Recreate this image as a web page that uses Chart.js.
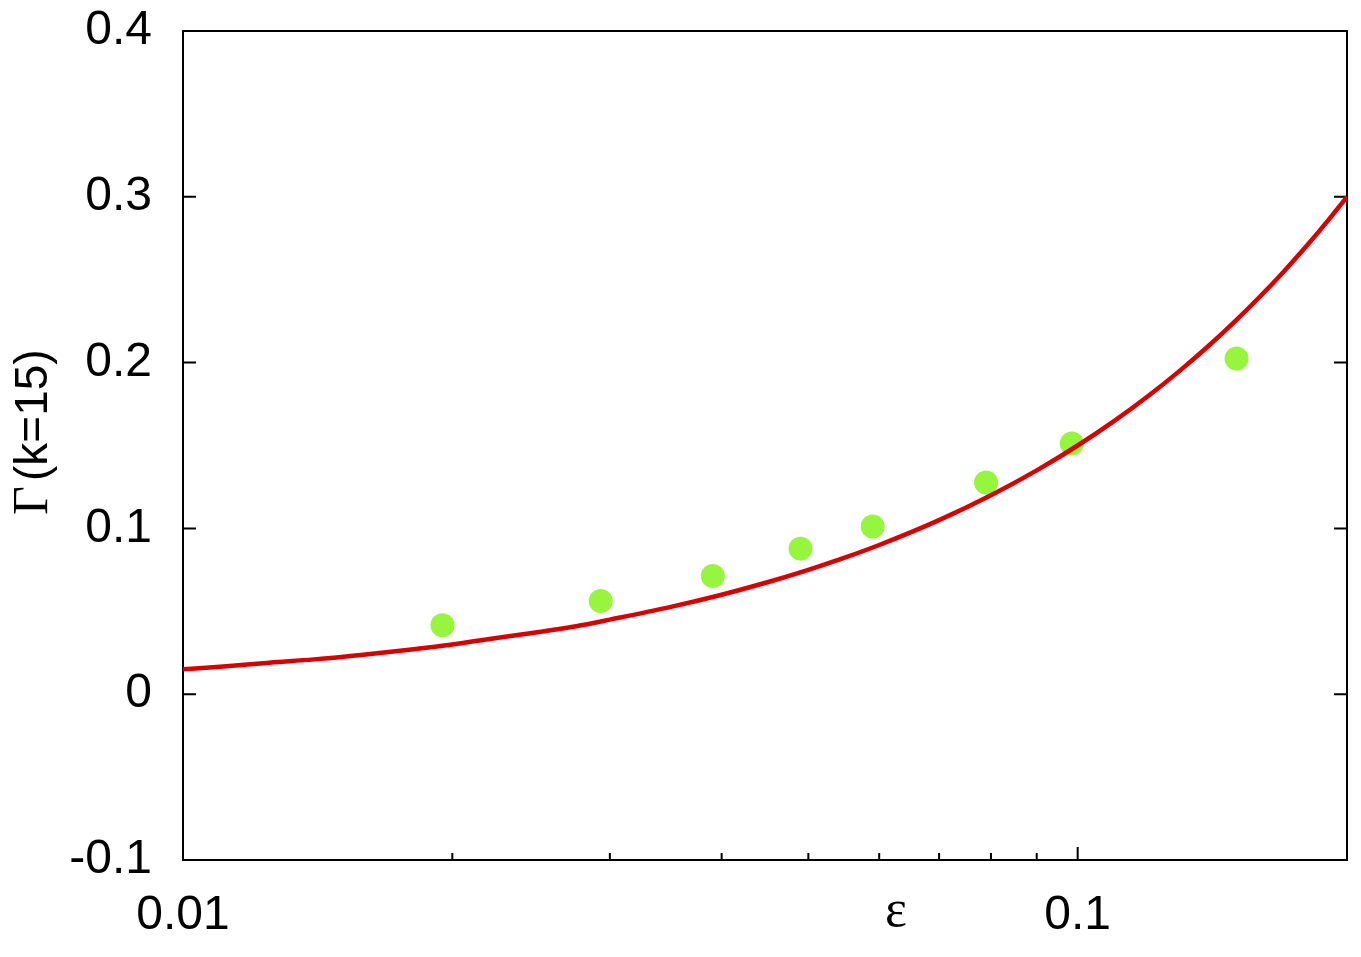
<!DOCTYPE html>
<html><head><meta charset="utf-8">
<script src="https://cdn.jsdelivr.net/npm/chart.js@4/dist/chart.umd.min.js"></script>
<style>html,body{margin:0;padding:0;background:#fff;}#wrap{width:1361px;height:957px;position:relative;}</style>
</head><body><div id="wrap"><canvas id="c" width="1361" height="957"></canvas></div>
<script>
// Fitted curve (red line)
const curveX = [0.01, 0.011, 0.0125, 0.014, 0.016, 0.018, 0.02, 0.0225, 0.025, 0.0275, 0.03, 0.035, 0.04, 0.045, 0.05, 0.055, 0.06, 0.07, 0.08, 0.09, 0.1, 0.11, 0.12, 0.13, 0.14, 0.15, 0.16, 0.17, 0.18, 0.19, 0.2];
const curveY = [0.015, 0.0165, 0.019, 0.021, 0.024, 0.027, 0.030, 0.034, 0.0375, 0.041, 0.045, 0.0525, 0.060, 0.0675, 0.075, 0.0825, 0.090, 0.105, 0.120, 0.135, 0.150, 0.165, 0.180, 0.195, 0.210, 0.225, 0.240, 0.255, 0.270, 0.285, 0.300];
// Measured points (green dots)
const pointX = [0.0195, 0.0293, 0.0391, 0.049, 0.059, 0.079, 0.0985, 0.1505];
const pointY = [0.0416, 0.0562, 0.0713, 0.0878, 0.1012, 0.1277, 0.1512, 0.2024];
// Axis ticks
const xTickValues = [0.01, 0.02, 0.03, 0.04, 0.05, 0.06, 0.07, 0.08, 0.09, 0.1];
const xMajorTicks = [0.01, 0.1];
const xTickLabels = ['0.01', '0.1'];
const yTickValues = [-0.1, 0, 0.1, 0.2, 0.3, 0.4];
const yTickLabels = ['-0.1', '0', '0.1', '0.2', '0.3', '0.4'];
const xTitle = 'ε';
const yTitleSymbol = 'Γ';
const yTitleRest = '(k=15)';

const SANS = '"Liberation Sans", Arial, Helvetica, sans-serif';
const SERIF = '"Liberation Serif", "DejaVu Serif", serif';

function near(a, b) { return Math.abs(a - b) < 1e-9 * Math.max(1, Math.abs(b)) + 1e-12; }

const framePlugin = {
  id: 'frame',
  beforeDatasetsDraw(chart) {
    const { ctx, chartArea: a, scales: { x, y } } = chart;
    ctx.save();
    ctx.strokeStyle = '#000';
    ctx.lineWidth = 2;
    ctx.strokeRect(a.left, a.top, a.right - a.left, a.bottom - a.top);
    ctx.lineWidth = 2;
    ctx.beginPath();
    yTickValues.forEach(v => {
      const py = y.getPixelForValue(v);
      ctx.moveTo(a.left, py); ctx.lineTo(a.left + 13, py);
      ctx.moveTo(a.right, py); ctx.lineTo(a.right - 13, py);
    });
    x.ticks.forEach(t => {
      const px = x.getPixelForValue(t.value);
      const major = xMajorTicks.some(m => near(m, t.value));
      ctx.moveTo(px, a.bottom); ctx.lineTo(px, a.bottom - (major ? 13 : 7));
    });
    ctx.stroke();
    ctx.restore();
  },
  afterDraw(chart) {
    const { ctx } = chart;
    ctx.save();
    ctx.fillStyle = '#000';
    // x title (epsilon)
    ctx.font = '52px ' + SERIF;
    ctx.textAlign = 'center';
    ctx.textBaseline = 'alphabetic';
    ctx.fillText(xTitle, 896, 926);
    // y title, rotated
    ctx.translate(47, 515);
    ctx.rotate(-Math.PI / 2);
    ctx.textAlign = 'left';
    ctx.font = '50px ' + SERIF;
    ctx.fillText(yTitleSymbol, 0, 0);
    ctx.font = '46px ' + SANS;
    ctx.fillText(yTitleRest, 34, 0);
    ctx.restore();
  }
};

const curveData = curveX.map((v, i) => ({ x: v, y: curveY[i] }));
const pointData = pointX.map((v, i) => ({ x: v, y: pointY[i] }));

new Chart(document.getElementById('c'), {
  type: 'scatter',
  data: {
    datasets: [
      {
        label: 'fit', data: curveData, showLine: true, borderColor: '#d80000', borderWidth: 4.5,
        pointRadius: 0, pointHoverRadius: 0, cubicInterpolationMode: 'monotone', fill: false
      },
      {
        label: 'data', data: pointData, showLine: false, pointRadius: 12, pointHoverRadius: 12,
        backgroundColor: '#96f53d', borderColor: '#96f53d', borderWidth: 0
      }
    ]
  },
  options: {
    responsive: false,
    animation: false,
    devicePixelRatio: 1,
    layout: { padding: { top: 31, right: 14, left: 0, bottom: 0 } },
    plugins: { legend: { display: false }, tooltip: { enabled: false } },
    scales: {
      x: {
        type: 'logarithmic', position: 'bottom', min: 0.01, max: 0.2,
        grid: { display: false }, border: { display: false },
        afterBuildTicks: s => { s.ticks = xTickValues.map(v => ({ value: v })); },
        afterFit: s => { s.height = 97; s.paddingLeft = 0; s.paddingRight = 0; s.paddingTop = 0; s.paddingBottom = 0; },
        ticks: {
          autoSkip: false, maxRotation: 0, minRotation: 0, padding: 19, color: '#000',
          font: { family: SANS, size: 48 },
          callback: (v) => {
            const i = xMajorTicks.findIndex(m => near(m, v));
            return i >= 0 ? xTickLabels[i] : '';
          }
        }
      },
      y: {
        type: 'linear', position: 'left', min: -0.1, max: 0.4,
        grid: { display: false }, border: { display: false },
        afterBuildTicks: s => { s.ticks = yTickValues.map(v => ({ value: v })); },
        afterFit: s => { s.width = 183; s.paddingTop = 0; s.paddingBottom = 0; s.paddingLeft = 0; s.paddingRight = 0; },
        ticks: {
          padding: 23, color: '#000',
          font: { family: SANS, size: 48 },
          callback: (v) => {
            const i = yTickValues.findIndex(m => near(m, v));
            return i >= 0 ? yTickLabels[i] : '';
          }
        }
      }
    }
  },
  plugins: [framePlugin]
});
</script>
</body></html>
